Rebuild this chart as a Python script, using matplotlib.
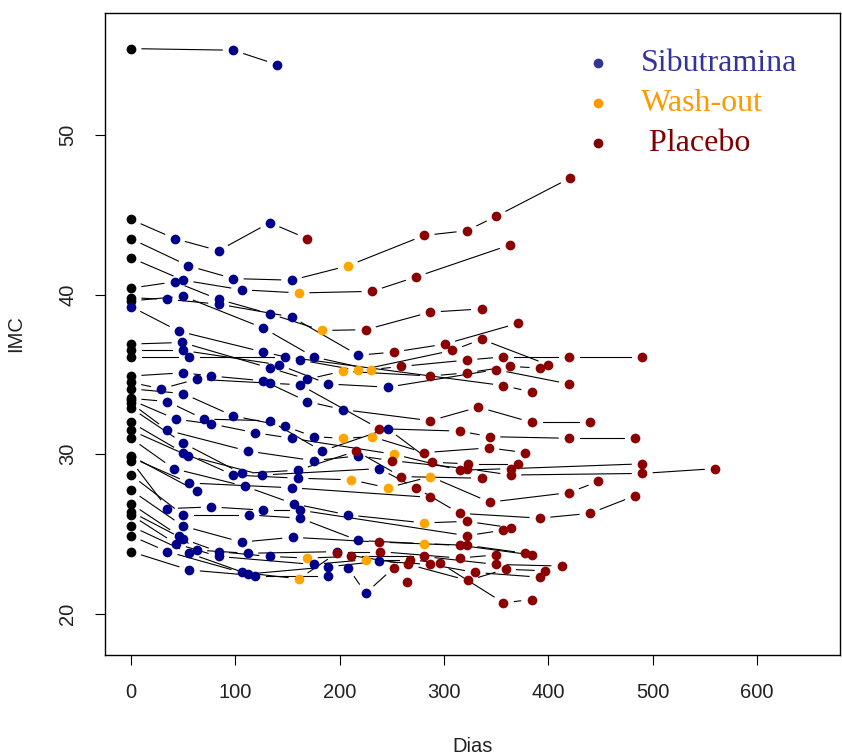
import matplotlib
matplotlib.use("Agg")
import matplotlib.pyplot as plt
import numpy as np

# one list per patient: days since start, BMI, phase of each visit
# phase: B = baseline, S = sibutramina, W = wash-out, R = placebo
dias = [
    [0, 98, 140],
    [0, 42, 84, 133, 169],
    [0, 55, 98, 154, 208, 281, 322, 350, 421],
    [0, 50, 106, 161, 231, 273, 363],
    [0, 42, 84, 133, 183, 225, 287, 336],
    [0, 35, 84, 154, 218, 252, 301, 371],
    [0, 50, 127, 175, 230, 259, 322, 357, 420, 490],
    [0, 46, 127, 162, 218, 308, 336, 400],
    [0, 49, 133, 169, 203, 287, 322, 363, 392],
    [0, 50, 142, 189, 246, 350, 420],
    [0, 56, 148, 357, 384],
    [0, 50, 77, 127, 169, 203, 287, 333, 384, 440],
    [0, 29, 63, 133, 162, 238, 315, 344, 420, 483],
    [0, 50, 98, 148, 175, 203, 231, 281, 343, 378],
    [0, 35, 70, 133, 183, 246, 289, 323, 371],
    [0, 43, 77, 119, 154, 252, 315, 364, 490],
    [0, 35, 112, 175, 218, 250, 322, 364, 490, 560],
    [0, 50, 106, 160, 216, 259, 336],
    [0, 50, 98, 160, 211, 246, 287, 344, 420, 448],
    [0, 55, 126, 238, 273, 315, 392, 440, 483],
    [0, 41, 109, 156, 208, 281, 322, 364],
    [0, 56, 154, 287],
    [0, 63],
    [0, 35, 77, 127, 162, 322, 357],
    [0, 50, 113, 162, 218, 281, 322, 378],
    [0, 50, 106, 155, 238, 315, 384],
    [0, 46, 63, 112, 197, 239, 315, 350],
    [0, 50, 84, 133, 169, 211, 281, 350, 413],
    [0, 43, 84, 175, 225, 267, 296, 357, 384],
    [0, 56, 112, 189, 238, 287, 330, 392],
    [0, 35, 106, 161, 197, 266, 323, 359, 397],
    [0, 56, 119, 189, 208, 225, 252, 265],
]
imc = [
    [55.4, 55.3, 54.4],
    [44.7, 43.5, 42.75, 44.5, 43.5],
    [43.5, 41.8, 41.0, 40.9, 41.8, 43.7, 44.0, 44.9, 47.3],
    [42.3, 40.9, 40.3, 40.1, 40.2, 41.1, 43.1],
    [40.4, 40.8, 39.7, 38.8, 37.75, 37.8, 38.9, 39.1],
    [39.8, 39.7, 39.4, 38.6, 36.2, 36.4, 36.9, 38.2],
    [39.6, 39.9, 37.9, 36.1, 35.3, 35.5, 35.9, 36.1, 36.1, 36.1],
    [39.25, 37.7, 36.4, 35.9, 35.25, 36.5, 37.2, 35.6],
    [36.9, 37.0, 35.4, 34.7, 35.2, 34.9, 35.1, 35.5, 35.4],
    [36.5, 36.5, 35.6, 34.4, 34.2, 35.3, 34.4],
    [36.1, 36.1, 36.1, 34.3, 33.9],
    [34.9, 35.1, 34.9, 34.6, 33.3, 32.8, 32.1, 32.95, 32.0, 32.0],
    [34.5, 34.1, 34.7, 34.45, 34.35, 31.6, 31.45, 31.1, 31.0, 31.0],
    [34.1, 33.8, 32.4, 31.75, 31.1, 31.0, 31.1, 30.1, 30.4, 30.1],
    [33.5, 33.3, 32.2, 32.1, 30.2, 31.6, 29.5, 29.4, 29.4],
    [33.4, 32.2, 31.9, 31.35, 31.0, 30.0, 29.0, 29.1, 29.4],
    [33.2, 31.5, 30.2, 29.6, 29.9, 29.6, 29.1, 28.7, 28.8, 29.1],
    [32.9, 30.7, 28.8, 29.0, 30.2, 28.6, 28.5],
    [32.0, 30.1, 28.7, 28.5, 28.4, 27.9, 28.6, 27.0, 27.6, 28.3],
    [31.5, 29.9, 28.7, 29.1, 27.9, 26.3, 26.0, 26.3, 27.4],
    [31.0, 29.1, 28.0, 26.9, 26.2, 25.7, 25.8, 25.4],
    [29.8, 28.2, 27.9, 27.3],
    [29.9, 27.7],
    [29.6, 26.6, 26.7, 26.5, 26.5, 24.9, 25.25],
    [28.7, 26.2, 26.2, 26.0, 24.6, 24.4, 24.3, 23.8],
    [27.75, 25.5, 24.5, 24.8, 24.5, 24.3, 23.7],
    [26.9, 24.9, 24.0, 23.8, 23.9, 23.9, 23.5, 23.7],
    [26.4, 24.7, 23.9, 23.6, 23.5, 23.6, 23.6, 23.1, 23.0],
    [26.2, 24.4, 23.6, 23.1, 23.4, 23.4, 23.2, 20.7, 20.9],
    [25.5, 23.8, 22.5, 22.95, 23.3, 23.1, 22.6, 22.3],
    [24.9, 23.9, 22.6, 22.2, 23.8, 23.1, 22.1, 22.8, 22.7],
    [23.9, 22.75, 22.4, 22.4, 22.9, 21.3, 22.9, 22.0],
]
fase = [
    "BSS", "BSSSR", "BSSSWRRRR", "BSSWRRR", "BSSSWRRR", "BSSSSRRR",
    "BSSSWRRRRR", "SSSSWRRR", "BSSSWRRRR", "BSSSSRR", "BSSRR",
    "BSSSSSRRRR", "BSSSSRRRRR", "BSSSSWWRRR", "BSSSSSRRR", "BSSSSWRRR",
    "BSSSSRRRRR", "BSSSRRR", "BSSSWWWRRR", "BSSSRRRRR", "BSSSSWRR",
    "BSSR", "BS", "BSSSSRR", "BSSSSWRR", "BSSSRRR", "BSSSSRRR",
    "BSSSWRRRR", "BSSSWRRRR", "BSSSSRRR", "BSSWRRRRR", "BSSSSSRR",
]

cores = {"B": "black", "S": "#00008B", "W": "#FFA500", "R": "#8B0000"}
legenda = ["Sibutramina", "Wash-out", " Placebo"]
legenda_cor = ["#333399", "#FF9900", "#800000"]

fig = plt.figure(figsize=(8.42, 7.54), dpi=100)
ax = fig.add_axes([105 / 842, 99 / 754, 735 / 842, 642 / 754])
ax.set_xlim(-24.9, 679.6)
ax.set_ylim(17.43, 57.63)

# R style type="b": segments stop short of the points
gap = 11
trans = ax.transData
inv = trans.inverted()
for d, v in zip(dias, imc):
    pix = trans.transform(np.column_stack([d, v]))
    for p0, p1 in zip(pix[:-1], pix[1:]):
        delta = p1 - p0
        comp = np.hypot(*delta)
        if comp <= 2 * gap:
            continue
        u = delta / comp
        seg = inv.transform([p0 + u * gap, p1 - u * gap])
        ax.plot(seg[:, 0], seg[:, 1], color="black", lw=0.8, zorder=1)

for d, v, f in zip(dias, imc, fase):
    for x, y, c in zip(d, v, f):
        ax.plot(x, y, "o", color=cores[c], markersize=7, markeredgewidth=0, zorder=2)

# legend drawn by hand, as in the original
for i, (lab, cor) in enumerate(zip(legenda, legenda_cor)):
    yl = 0.922 - i * 0.0623
    ax.plot(0.6707, yl, "o", color=cor, markersize=7, markeredgewidth=0,
            transform=ax.transAxes)
    ax.text(0.7293, yl, lab, color=cor, fontsize=23, family="Liberation Serif",
            va="center", ha="left", transform=ax.transAxes)

ax.set_xticks([0, 100, 200, 300, 400, 500, 600])
ax.set_yticks([20, 30, 40, 50])
ax.tick_params(direction="out", length=7, width=0.8, pad=13, labelsize=14.5)
for lab in ax.get_xticklabels() + ax.get_yticklabels():
    lab.set_family("Liberation Sans")
    lab.set_color("#222222")
for lab in ax.get_yticklabels():
    lab.set_rotation(90)
    lab.set_va("center")
for s in ax.spines.values():
    s.set_linewidth(1.0)

ax.set_xlabel("Dias", fontsize=14.5, family="Liberation Sans", color="#222222", labelpad=25)
ax.set_ylabel("IMC", fontsize=14.5, family="Liberation Sans", color="#222222", labelpad=24)

fig.savefig("out.png", dpi=100)
